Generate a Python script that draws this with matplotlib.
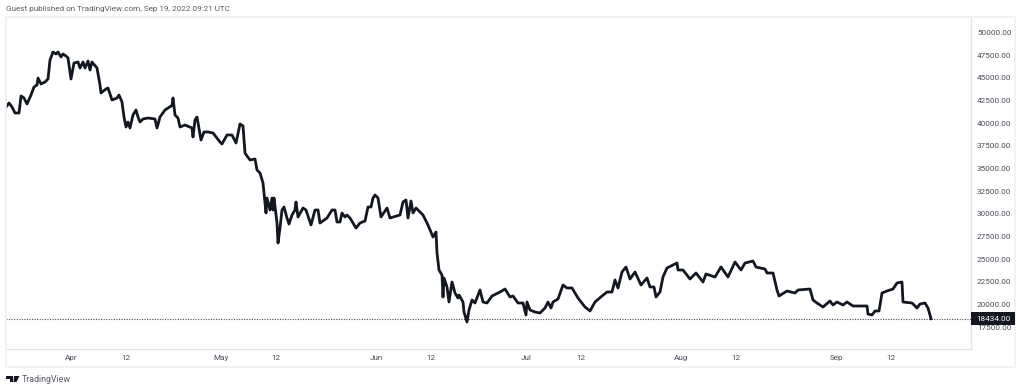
import matplotlib
matplotlib.use("Agg")
import matplotlib.pyplot as plt
from matplotlib.patches import Rectangle, Polygon

# (days since 1 April 2022, price)
march = [(-13, 41783), (-12.4, 42224), (-11.8, 41783), (-11.2, 41121), (-10.4, 41121), (-10, 42996), (-9.4, 42776),
         (-8.8, 42114), (-8, 43106), (-7.4, 43989), (-6.8, 44210), (-6.6, 44981), (-6, 44320), (-5.2, 44540),
         (-4.6, 44871), (-4.2, 46967), (-3.6, 47850), (-3, 47629), (-2.6, 47850), (-2, 47298), (-1.6, 47629),
         (-1, 47408), (-0.6, 47188), (-0.2, 45643), (0, 44871)]
april = [(.6, 46636), (1.4, 46746), (1.8, 46085), (2.4, 46746), (2.8, 46085), (3.4, 46857), (3.8, 45864), (4.2, 46746),
         (5.2, 46085), (5.8, 44210), (6, 43327), (7, 43768), (7.4, 43879), (8.2, 42555), (9.2, 42776), (9.6, 43106),
         (10.2, 42334), (10.6, 40680), (11, 39577), (11.4, 40129), (11.8, 39467), (12.4, 40901), (13, 41452),
         (13.4, 40680), (13.8, 40129), (14.4, 40459), (15.4, 40570), (16.8, 40459), (17.2, 39467), (17.8, 40680),
         (18.8, 41452), (20.2, 41954), (20.4, 42776), (20.8, 40901), (21.4, 40570), (21.8, 39577), (22.8, 39798),
         (24.2, 39467), (24.4, 38474), (24.8, 40349), (25.2, 40680), (26, 38143), (26.6, 39025), (27.4, 39025),
         (28.4, 38915), (29.8, 37923), (30.2, 37702)]
may = [(31.2, 38695), (32.2, 38695), (33, 37812), (33.8, 39908), (34.4, 39687), (34.8, 36709), (35.2, 36378),
       (35.8, 35937), (36.8, 36047), (37.2, 34834), (37.8, 34503), (38.4, 33400), (39, 30091), (39.2, 31745),
       (39.8, 30422), (40.2, 31745), (40.4, 30422), (40.6, 31745), (41.2, 28988), (41.4, 26782), (41.8, 28437),
       (42.2, 30422), (42.6, 30753), (43.2, 29540), (43.6, 28878), (44.2, 29870), (44.8, 30422), (45, 31304),
       (45.4, 29650), (46.4, 30642), (47, 30422), (48, 28768), (48.8, 30422), (49.4, 30422), (49.8, 28988),
       (51.2, 29540), (52.2, 30422), (52.8, 30422), (53.2, 29099), (53.8, 29099), (54.2, 30091), (54.8, 29650),
       (55.2, 29870), (55.8, 29540), (56.4, 28988), (57, 28437), (57.8, 28988), (58.8, 29209), (59.4, 30753),
       (60, 30753)]
june = [(60.4, 31745), (60.8, 32077), (61.4, 31745), (62, 29650), (63.2, 30642), (63.8, 29540), (65.8, 29870),
        (66.4, 31304), (67, 31525), (67.4, 29540), (68, 31415), (68.4, 30091), (69, 30642), (70.4, 29870),
        (71.4, 28768), (72.4, 27444), (73, 27995), (73.2, 25679), (73.6, 23804), (74.2, 23253), (74.4, 20826),
        (74.6, 22922), (75.2, 21929), (75.6, 20274), (76.2, 22480), (76.8, 21267), (77.4, 20716), (77.6, 21047),
        (78.4, 20274), (78.6, 19171), (79.2, 18068), (79.6, 19392), (80.2, 20495), (80.8, 20164), (81.8, 21598),
        (82.4, 20274), (83.2, 20164), (84.2, 20937), (85.8, 21377), (86.8, 21708), (87.8, 20826), (88.4, 20937),
        (89.4, 20164), (90.4, 20164), (91, 18841)]
july = [(91.2, 20274), (91.8, 19392), (92.8, 19171), (93.8, 19061), (94.8, 19613), (95.4, 20274), (96, 19613),
        (96.4, 20274), (97.4, 20605), (98.4, 22150), (99.2, 21820), (100.2, 21820), (101.4, 20716), (102.8, 19723),
        (103.8, 19282), (104.8, 20274), (106.2, 20937), (107.2, 21377), (108.2, 21377), (108.8, 22701), (109.4, 21820),
        (110.2, 23583), (111, 24135), (111.8, 22811), (112.8, 23583), (114, 22150), (115.2, 22922), (115.8, 21929),
        (116.6, 21929), (117, 20826), (117.8, 21377), (118.4, 23032), (119.2, 24025), (121.2, 24576), (121.4, 23804)]
august = [(122.4, 23804), (123.8, 22811), (125, 23473), (126.4, 22480), (127, 23363), (128.8, 23032), (130, 24135),
          (131.4, 23032), (132.8, 24686), (134, 23804), (134.8, 24576), (136.4, 24797), (137, 24135), (138.8, 23915),
          (139.2, 23473), (140.4, 23473), (141.2, 21598), (141.6, 20937), (143.2, 21488), (144.8, 21267),
          (145.4, 21598), (147.8, 21708), (148.4, 20495), (149.2, 20164), (150.4, 19723), (151.8, 20385)]
september = [(152.4, 19944), (153.2, 20274), (154.4, 19944), (155.2, 20274), (156.4, 19833), (159.2, 19833),
             (159.4, 18951), (160.2, 18841), (160.8, 19282), (161.6, 19282), (162.2, 21267), (163.2, 21488),
             (164.4, 21708), (165.2, 22370), (166.2, 22480), (166.4, 20274), (168.2, 20164), (169.2, 19613),
             (169.8, 20054), (170.8, 20164), (171.4, 19613), (172, 18434)]
ref_price = 18434
ytick_vals = [17500, 20000, 22500, 25000, 27500, 30000, 32500, 35000, 37500, 40000, 42500, 45000, 47500, 50000]
xtick_pos = [0, 11, 30, 41, 61, 72, 91, 102, 122, 133, 153, 164]
xtick_lab = ["Apr", "12", "May", "12", "Jun", "12", "Jul", "12", "Aug", "12", "Sep", "12"]

W, H = 1020, 390
plt.rcParams["font.family"] = ["Roboto", "DejaVu Sans"]
fig = plt.figure(figsize=(W / 100, H / 100), dpi=100, facecolor="white")


def box(l, t, r, b):
    return [l / W, 1 - b / H, (r - l) / W, (b - t) / H]


ax = fig.add_axes(box(6, 17, 971.5, 349))
ax.set_xlim(-13, 180.1)
ax.set_ylim(53585 - 110.3 * 349, 53585 - 110.3 * 17)
series = march + april + may + june + july + august + september
ax.plot([d for d, _ in series], [p for _, p in series], color="#131722", lw=2.0,
        solid_joinstyle="round", zorder=3)
ax.axhline(ref_price, color="#434651", lw=0.8, ls=(0, (1, 1.3)), zorder=2)

for s in ["top", "left"]:
    ax.spines[s].set_color("#eef0f6")
    ax.spines[s].set_linewidth(1.2)
for s in ["right", "bottom"]:
    ax.spines[s].set_color("#e0e3eb")
    ax.spines[s].set_linewidth(0.9)
ax.set_xticks(xtick_pos, xtick_lab)
ax.yaxis.tick_right()
ax.set_yticks(ytick_vals, [f"{v:.2f}" for v in ytick_vals])
ax.tick_params(axis="both", length=0, labelsize=5.85, labelcolor="#4a4e5a")
ax.tick_params(axis="x", pad=4.5)
ax.tick_params(axis="y", pad=4)

# outer frame of the chart panel
fig.add_artist(plt.Line2D([6 / W, 1015 / W, 1015 / W, 6 / W, 6 / W],
                          [1 - 17 / H, 1 - 17 / H, 1 - 367 / H, 1 - 367 / H, 1 - 17 / H],
                          color="#eef0f6", lw=1.2))

# last price tag
fig.add_artist(Rectangle((971.5 / W, 1 - 325 / H), 43.5 / W, 13 / H, transform=fig.transFigure,
                         facecolor="#131722", edgecolor="none", zorder=5))
fig.text(993.5 / W, 1 - 318.7 / H, f"{ref_price:.2f}", color="white", fontsize=5.85,
         ha="center", va="center", zorder=6)

fig.text(6 / W, 1 - 9 / H, "Guest published on TradingView.com, Sep 19, 2022 09:21 UTC",
         color="#5a5d68", fontsize=5.85, ha="left", va="center")
fig.text(22 / W, 1 - 379 / H, "TradingView", color="#5a5d68", fontsize=6.4, ha="left", va="center")


# logo
def px(points):
    return [(x / W, 1 - y / H) for x, y in points]


for pts in ([(6, 376), (13, 376), (13, 382), (10, 382), (10, 379), (6, 379)],
            [(14, 376), (19.5, 376), (16.5, 382), (13.5, 382)]):
    fig.add_artist(Polygon(px(pts), closed=True, transform=fig.transFigure,
                           facecolor="#131722", edgecolor="none"))

fig.savefig("out.png", dpi=100, facecolor="white")
